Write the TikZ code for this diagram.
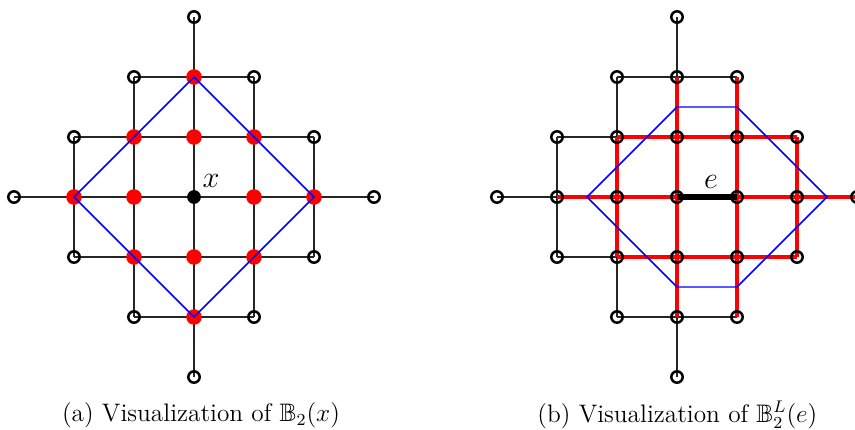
\documentclass[tikz,border=0pt]{standalone}
\usepackage{amsmath, amssymb}
\usepackage{tikz}
\usetikzlibrary{calc, backgrounds}

\begin{document}
\begin{tikzpicture}[
        site/.style={
            circle,
            draw=black,
            line width=1.2pt,
            inner sep=0pt,
            minimum size=0.19cm
        },
        ball/.style={
            circle,
            fill=red,
            inner sep=0pt,
            minimum size=0.26cm
        },
        root/.style={
            circle,
            fill=black,
            inner sep=0pt,
            minimum size=0.23cm
        },
        lat/.style={
            line width=0.8pt,
            color=black!85
        },
        hot/.style={
            line width=1.9pt,
            color=red
        },
        bound/.style={
            line width=0.7pt,
            color=blue
        },
        subcap/.style={
            font=\fontsize{12}{14}\selectfont
        }
    ]

    \useasboundingbox (0,0) rectangle (14.25,7.1667);

    % Lattice (a): red ball of radius 2 around x
    \begin{scope}[shift={(3.2333,3.8833)}]
        \foreach \i in {-3,...,3}{
            \foreach \j in {-3,...,3}{
                \pgfmathtruncatemacro{\d}{abs(\i)+abs(\j)}
                \pgfmathtruncatemacro{\c}{\i+3}
                \pgfmathtruncatemacro{\r}{\j+3}
                \ifnum\d=3
                    \node (a\c\r) [site] at (\i,\j) {};
                \fi
                \ifnum\d=0
                    \node (a\c\r) [root] at (\i,\j) {};
                \fi
                \ifnum\d>0 \ifnum\d<3
                    \node (a\c\r) [ball] at (\i,\j) {};
                \fi\fi
            }
        }
    \end{scope}

    % Lattice (b): all sites open
    \begin{scope}[shift={(11.2833,3.8833)}]
        \foreach \i in {-3,...,3}{
            \foreach \j in {-3,...,3}{
                \pgfmathtruncatemacro{\d}{abs(\i)+abs(\j)}
                \pgfmathtruncatemacro{\c}{\i+3}
                \pgfmathtruncatemacro{\r}{\j+3}
                \ifnum\d<4
                    \node (b\c\r) [site] at (\i,\j) {};
                \fi
            }
        }
    \end{scope}

    % Edges (drawn behind the sites)
    \begin{scope}[on background layer]
        \foreach \p in {a,b}{
            \foreach \i in {0,...,5}{
                \foreach \j in {0,...,6}{
                    \pgfmathtruncatemacro{\u}{max(abs(\i-3),abs(\i-2))+abs(\j-3)}
                    \pgfmathtruncatemacro{\k}{\i+1}
                    \ifnum\u<4
                        \draw [lat] (\p\i\j.center) -- (\p\k\j.center);
                        \draw [lat] (\p\j\i.center) -- (\p\j\k.center);
                    \fi
                }
            }
        }

        % Edges of the ball around e
        \draw [hot] (b24.center) -- (b34.center) -- (b44.center) -- (b54.center);
        \draw [hot] (b13.center) -- (b23.center) -- (b33.center);
        \draw [hot] (b43.center) -- (b53.center) -- (b63.center);
        \draw [hot] (b22.center) -- (b32.center) -- (b42.center) -- (b52.center);
        \draw [hot] (b22.center) -- (b23.center) -- (b24.center);
        \draw [hot] (b31.center) -- (b32.center) -- (b33.center) -- (b34.center) -- (b35.center);
        \draw [hot] (b41.center) -- (b42.center) -- (b43.center) -- (b44.center) -- (b45.center);
        \draw [hot] (b52.center) -- (b53.center) -- (b54.center);

        % Edge e
        \draw [line width=2.4pt, black] (b33.center) -- (b43.center);
    \end{scope}

    % Boundaries
    \draw [bound] (a53.center) -- (a35.center) -- (a13.center) -- (a31.center) -- cycle;
    \draw [bound] ($(b13)!0.5!(b23)$) -- ($(b34)!0.5!(b35)$) -- ($(b44)!0.5!(b45)$)
        -- ($(b53)!0.5!(b63)$) -- ($(b41)!0.5!(b42)$) -- ($(b31)!0.5!(b32)$) -- cycle;

    % Labels
    \node (xlab) at ([xshift=0.283cm, yshift=0.267cm]a33.center) {\Large $x$};
    \node (elab) at ([xshift=0.567cm, yshift=0.25cm]b33.center) {\Large $e$};

    % Captions
    \node (capa) [subcap] at (3.35,0.25) {(a) Visualization of $\mathbb{B}_2(x)$};
    \node (capb) [subcap] at (11.29,0.25) {(b) Visualization of $\mathbb{B}_2^L(e)$};

\end{tikzpicture}
\end{document}
